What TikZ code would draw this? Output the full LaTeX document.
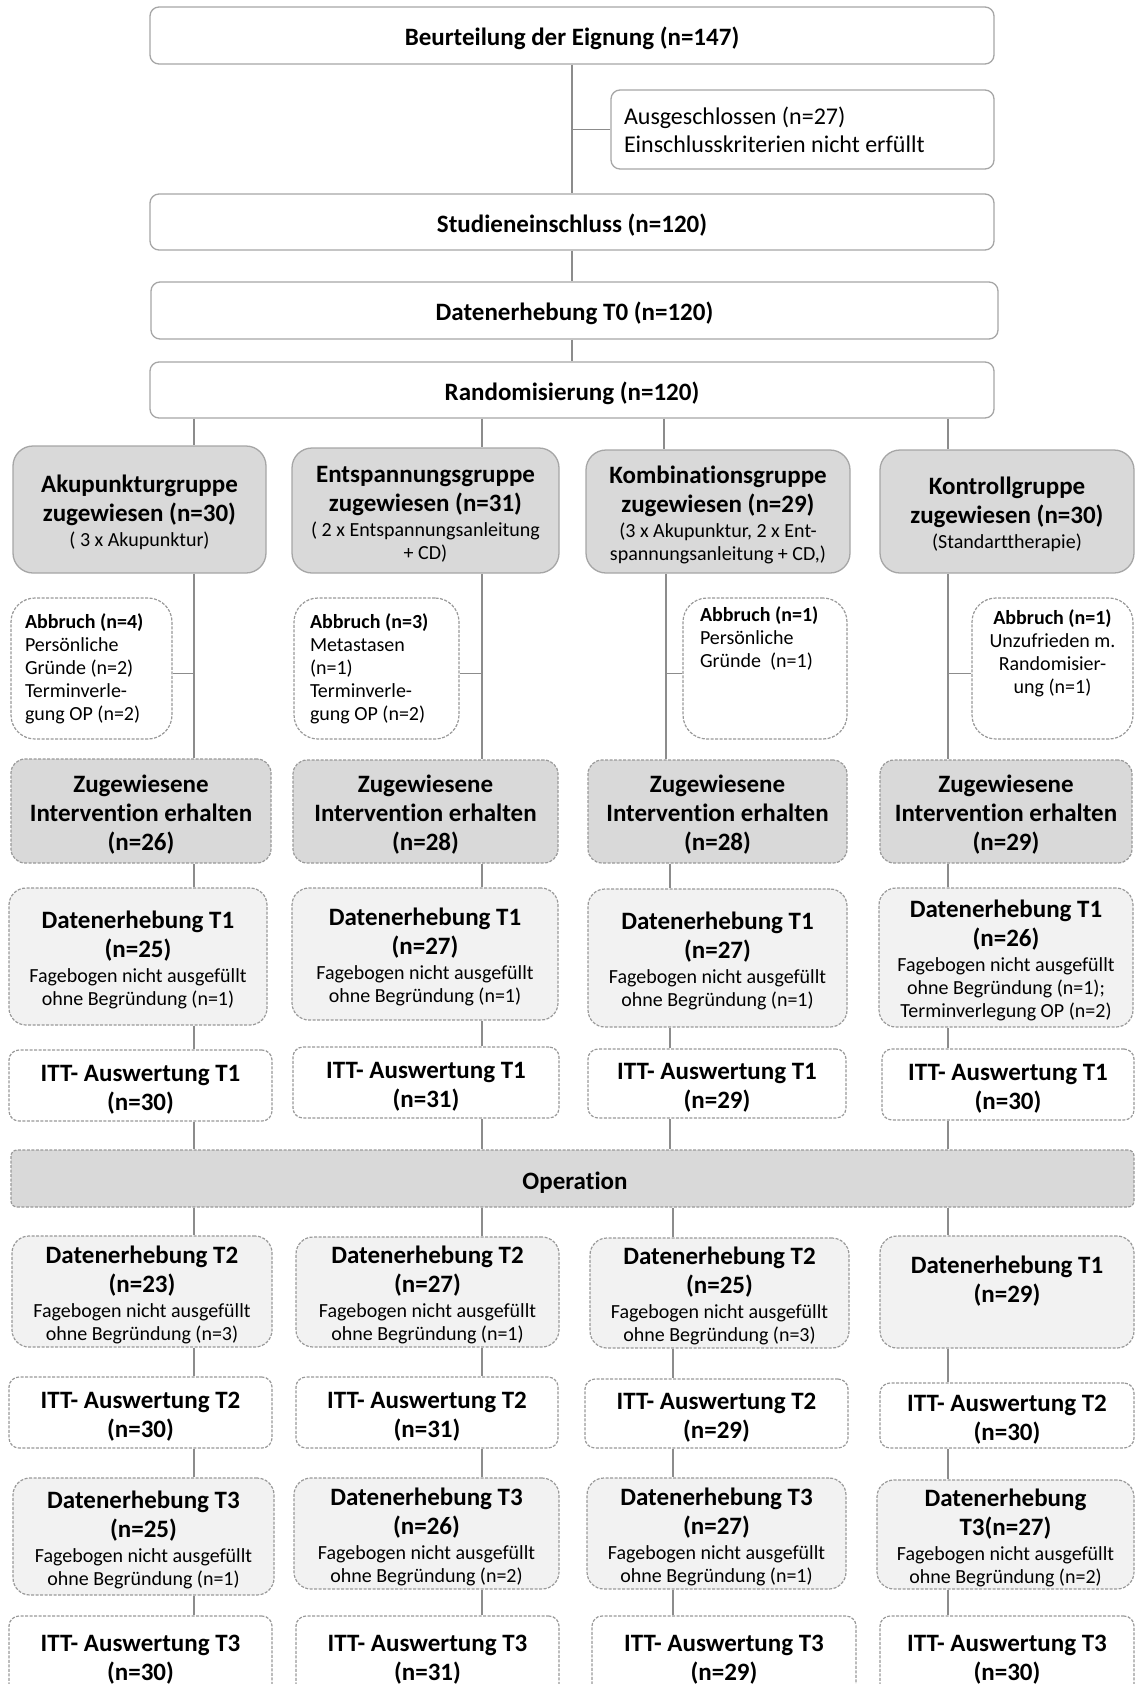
\documentclass[tikz,border=0pt]{standalone}
\usepackage{fontspec}
\setmainfont{Carlito}[Ligatures=NoCommon]
\usetikzlibrary{calc}
\definecolor{boxgray}{HTML}{D9D9D9}
\definecolor{lightfill}{HTML}{F2F2F2}
\definecolor{bordergray}{HTML}{A6A6A6}
\definecolor{dashgray}{HTML}{999999}
\definecolor{linegray}{HTML}{8C8C8C}
\newcommand\fT{\fontsize{25}{29}\selectfont\bfseries}
\newcommand\fR{\fontsize{24}{28}\selectfont}
\newcommand\fS{\fontsize{20}{24}\selectfont\mdseries}
\newcommand\fA{\fontsize{20}{23}\selectfont}
\newcommand\Lo{\rule{0pt}{24pt}}
\tikzset{
  every node/.style={inner sep=0pt, align=center, text=black},
  lowered/.style={execute at begin node={\rule{0pt}{25pt}}},
  solidbox/.style={draw=bordergray, line width=1.3pt},
  dshbox/.style={draw=dashgray, line width=1.2pt, dash pattern=on 3pt off 1.5pt},
  topbox/.style={solidbox, fill=white, rounded corners=9pt, font=\fT, lowered},
  grpbox/.style={solidbox, fill=boxgray, rounded corners=20pt, font=\fT},
  abbox/.style={dshbox, fill=white, rounded corners=24pt},
  zbox/.style={dshbox, fill=boxgray, rounded corners=14pt, font=\fT},
  dbox/.style={dshbox, fill=lightfill, rounded corners=17pt, font=\fT},
  ittbox/.style={dshbox, fill=white, rounded corners=10pt, font=\fT},
  opbox/.style={dshbox, fill=boxgray, rounded corners=6pt, font=\fT, lowered},
  conn/.style={draw=linegray, line width=1.3pt}
}
\begin{document}
\begin{tikzpicture}[x=1pt,y=-1pt]
\useasboundingbox (0,0) rectangle (1135,1684);
\clip (0,0) rectangle (1135,1684);
\coordinate (xA) at (194,0);
\coordinate (xB) at (482,0);
\coordinate (xC1) at (664,0);
\coordinate (xC2) at (666,0);
\coordinate (xC3) at (670,0);
\coordinate (xC4) at (673,0);
\coordinate (xD) at (948,0);

% top chain
\node[topbox, minimum width=844, minimum height=57] (beur) at (572,35.5) {Beurteilung der Eignung (n=147)};
\node[solidbox, fill=white, rounded corners=9pt, minimum width=383, minimum height=79] (excl) at (802.5,129.5) {\parbox{357pt}{\fR\raggedright Ausgeschlossen (n=27)\\Einschlusskriterien nicht erfüllt}};
\node[topbox, minimum width=844, minimum height=56] (stud) at (572,222) {Studieneinschluss (n=120)};
\node[topbox, minimum width=847, minimum height=57] (t0) at (574.5,310.5) {Datenerhebung T0 (n=120)};
\node[topbox, minimum width=844, minimum height=56] (rand) at (572,390) {Randomisierung (n=120)};

% groups
\node[grpbox, minimum width=253, minimum height=127] (gA) at (139.5,509.5) {\Lo Akupunkturgruppe\\zugewiesen (n=30)\\[-4pt]{\fS ( 3 x Akupunktur)}};
\node[grpbox, minimum width=267, minimum height=125] (gB) at (425.5,510.5) {\Lo Entspannungsgruppe\\zugewiesen (n=31)\\[-4pt]{\fS ( 2 x Entspannungsanleitung}\\[-6pt]{\fS + CD)}};
\node[grpbox, minimum width=264, minimum height=123] (gC) at (718,511.5) {\Lo Kombinationsgruppe\\zugewiesen (n=29)\\[-4pt]{\fS (3 x Akupunktur, 2 x Ent-}\\[-6pt]{\fS spannungsanleitung + CD,)}};
\node[grpbox, minimum width=254, minimum height=123] (gD) at (1007,511.5) {\Lo Kontrollgruppe\\zugewiesen (n=30)\\[-4pt]{\fS (Standarttherapie)}};

% Abbruch
\node[abbox, minimum width=161, minimum height=141] (aA) at (91.5,668.5) {\parbox[c][141pt][c]{133pt}{\fA\raggedright\textbf{Abbruch (n=4)}\\Persönliche\\Gründe (n=2)\\Terminverle-\\gung OP (n=2)}};
\node[abbox, minimum width=165, minimum height=141] (aB) at (376.5,668.5) {\parbox[c][141pt][c]{133pt}{\fA\raggedright\textbf{Abbruch (n=3)}\\Metastasen\\(n=1)\\Terminverle-\\gung OP (n=2)}};
\node[abbox, minimum width=164, minimum height=141] (aC) at (765,668.5) {\parbox[c][141pt][t]{130pt}{\vspace*{9pt}\fA\raggedright\textbf{Abbruch (n=1)}\\Persönliche\\Gründe\ \ (n=1)}};
\node[abbox, minimum width=161, minimum height=141] (aD) at (1052.5,668.5) {\parbox[c][141pt][t]{150pt}{\vspace*{12pt}\fA\centering\textbf{Abbruch (n=1)}\\Unzufrieden m.\\Randomisier-\\ung (n=1)}};

% Zugewiesene
\node[zbox, minimum width=260, minimum height=104] (zA) at (141,811) {\Lo Zugewiesene\\Intervention erhalten\\(n=26)};
\node[zbox, minimum width=265, minimum height=103] (zB) at (425.5,811.5) {\Lo Zugewiesene\\Intervention erhalten\\(n=28)};
\node[zbox, minimum width=259, minimum height=103] (zC) at (717.5,811.5) {\Lo Zugewiesene\\Intervention erhalten\\(n=28)};
\node[zbox, minimum width=252, minimum height=103] (zD) at (1006,811.5) {\Lo Zugewiesene\\Intervention erhalten\\(n=29)};

% Datenerhebung T1
\node[dbox, minimum width=258, minimum height=137] (dA) at (138,956.5) {\Lo Datenerhebung T1\\(n=25)\\[-4pt]{\fS Fagebogen nicht ausgefüllt}\\[-6pt]{\fS ohne Begründung (n=1)}};
\node[dbox, minimum width=266, minimum height=132] (dB) at (425,954) {\Lo Datenerhebung T1\\(n=27)\\[-4pt]{\fS Fagebogen nicht ausgefüllt}\\[-6pt]{\fS ohne Begründung (n=1)}};
\node[dbox, minimum width=259, minimum height=138] (dC) at (717.5,958) {\Lo Datenerhebung T1\\(n=27)\\[-4pt]{\fS Fagebogen nicht ausgefüllt}\\[-6pt]{\fS ohne Begründung (n=1)}};
\node[dbox, minimum width=254, minimum height=139] (dD) at (1006,957.5) {\Lo Datenerhebung T1\\(n=26)\\[-4pt]{\fS Fagebogen nicht ausgefüllt}\\[-6pt]{\fS ohne Begründung (n=1);}\\[-6pt]{\fS Terminverlegung OP (n=2)}};

% ITT T1
\node[ittbox, minimum width=263, minimum height=71] (iA) at (140.5,1085.5) {\Lo ITT- Auswertung T1\\(n=30)};
\node[ittbox, minimum width=266, minimum height=71] (iB) at (426,1082.5) {\Lo ITT- Auswertung T1\\(n=31)};
\node[ittbox, minimum width=258, minimum height=69] (iC) at (717,1083.5) {\Lo ITT- Auswertung T1\\(n=29)};
\node[ittbox, minimum width=252, minimum height=71] (iD) at (1008,1084.5) {\Lo ITT- Auswertung T1\\(n=30)};

% Operation
\node[opbox, minimum width=1123, minimum height=57] (op) at (572.5,1178.5) {\hspace*{5pt}Operation};

% Datenerhebung T2
\node[dbox, minimum width=260, minimum height=111] (eA) at (142,1291.5) {\Lo Datenerhebung T2\\(n=23)\\[-4pt]{\fS Fagebogen nicht ausgefüllt}\\[-6pt]{\fS ohne Begründung (n=3)}};
\node[dbox, minimum width=263, minimum height=110] (eB) at (427.5,1292) {\Lo Datenerhebung T2\\(n=27)\\[-4pt]{\fS Fagebogen nicht ausgefüllt}\\[-6pt]{\fS ohne Begründung (n=1)}};
\node[dbox, minimum width=259, minimum height=110] (eC) at (719.5,1293) {\Lo Datenerhebung T2\\(n=25)\\[-4pt]{\fS Fagebogen nicht ausgefüllt}\\[-6pt]{\fS ohne Begründung (n=3)}};
\node[dbox, minimum width=254, minimum height=112] (eD) at (1007,1292) {\Lo Datenerhebung T1\\(n=29)\\[-4pt]{\fS\strut}};

% ITT T2
\node[ittbox, minimum width=263, minimum height=71] (jA) at (140.5,1412.5) {\Lo ITT- Auswertung T2\\(n=30)};
\node[ittbox, minimum width=262, minimum height=71] (jB) at (427,1412.5) {\Lo ITT- Auswertung T2\\(n=31)};
\node[ittbox, minimum width=263, minimum height=69] (jC) at (716.5,1413.5) {\Lo ITT- Auswertung T2\\(n=29)};
\node[ittbox, minimum width=254, minimum height=65] (jD) at (1007,1415.5) {\Lo ITT- Auswertung T2\\(n=30)};

% Datenerhebung T3
\node[dbox, minimum width=261, minimum height=117] (fA) at (143.5,1536.5) {\Lo Datenerhebung T3\\(n=25)\\[-4pt]{\fS Fagebogen nicht ausgefüllt}\\[-6pt]{\fS ohne Begründung (n=1)}};
\node[dbox, minimum width=265, minimum height=111] (fB) at (426.5,1533.5) {\Lo Datenerhebung T3\\(n=26)\\[-4pt]{\fS Fagebogen nicht ausgefüllt}\\[-6pt]{\fS ohne Begründung (n=2)}};
\node[dbox, minimum width=259, minimum height=111] (fC) at (716.5,1533.5) {\Lo Datenerhebung T3\\(n=27)\\[-4pt]{\fS Fagebogen nicht ausgefüllt}\\[-6pt]{\fS ohne Begründung (n=1)}};
\node[dbox, minimum width=257, minimum height=109] (fD) at (1005.5,1534.5) {\Lo Datenerhebung\\T3(n=27)\\[-4pt]{\fS Fagebogen nicht ausgefüllt}\\[-6pt]{\fS ohne Begründung (n=2)}};

% ITT T3
\node[ittbox, minimum width=263, minimum height=80] (kA) at (140.5,1656) {\Lo ITT- Auswertung T3\\(n=30)};
\node[ittbox, minimum width=263, minimum height=80] (kB) at (427.5,1656) {\Lo ITT- Auswertung T3\\(n=31)};
\node[ittbox, minimum width=264, minimum height=80] (kC) at (724,1656) {\Lo ITT- Auswertung T3\\(n=29)};
\node[ittbox, minimum width=254, minimum height=80] (kD) at (1007,1656) {\Lo ITT- Auswertung T3\\(n=30)};

% connectors top
\draw[conn] (beur.south) -- (stud.north);
\draw[conn] (excl.west) -- (excl.west -| beur.south);
\draw[conn] (stud.south) -- (stud.south |- t0.north);
\draw[conn] (t0.south -| rand.north) -- (rand.north);
\draw[conn] (rand.south -| xA) -- (gA.north -| xA);
\draw[conn] (rand.south -| xB) -- (gB.north -| xB);
\draw[conn] (rand.south -| xC1) -- (gC.north -| xC1);
\draw[conn] (rand.south -| xD) -- (gD.north -| xD);

% Abbruch branches
\draw[conn] ([yshift=-5pt]aA.east) -- ([yshift=-5pt]aA.east -| xA);
\draw[conn] ([yshift=-5pt]aB.east) -- ([yshift=-5pt]aB.east -| xB);
\draw[conn] ([yshift=-5pt]aC.west) -- ([yshift=-5pt]aC.west -| xC2);
\draw[conn] ([yshift=-5pt]aD.west) -- ([yshift=-5pt]aD.west -| xD);

% column chains
\foreach \c/\x in {A/xA,B/xB,D/xD}{
  \draw[conn] (g\c.south -| \x) -- (z\c.north -| \x);
  \draw[conn] (z\c.south -| \x) -- (d\c.north -| \x);
  \draw[conn] (d\c.south -| \x) -- (i\c.north -| \x);
  \draw[conn] (i\c.south -| \x) -- (op.north -| \x);
  \draw[conn] (op.south -| \x) -- (e\c.north -| \x);
  \draw[conn] (e\c.south -| \x) -- (j\c.north -| \x);
  \draw[conn] (j\c.south -| \x) -- (f\c.north -| \x);
  \draw[conn] (f\c.south -| \x) -- (k\c.north -| \x);
}
\draw[conn] (gC.south -| xC2) -- (zC.north -| xC2);
\draw[conn] (zC.south -| xC3) -- (dC.north -| xC3);
\draw[conn] (dC.south -| xC3) -- (iC.north -| xC3);
\draw[conn] (iC.south -| xC3) -- (op.north -| xC3);
\draw[conn] (op.south -| xC4) -- (eC.north -| xC4);
\draw[conn] (eC.south -| xC4) -- (jC.north -| xC4);
\draw[conn] (jC.south -| xC4) -- (fC.north -| xC4);
\draw[conn] (fC.south -| xC4) -- (kC.north -| xC4);
\end{tikzpicture}
\end{document}
